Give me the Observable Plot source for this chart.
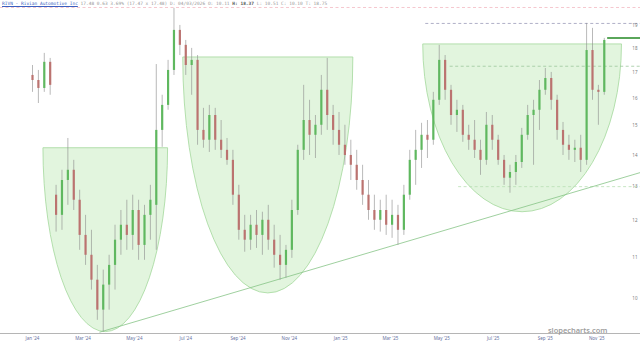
<!DOCTYPE html>
<html><head><meta charset="utf-8">
<script src="https://cdn.jsdelivr.net/npm/d3@7"></script>
<script src="https://cdn.jsdelivr.net/npm/@observablehq/plot@0.6"></script>
<style>
body{margin:0;background:#fff;}
#wrap{position:relative;width:640px;height:345px;overflow:hidden;background:#fff;}
#title{position:absolute;left:2px;top:1px;font:4.5px "DejaVu Sans Mono",monospace;color:#9a9a9a;white-space:nowrap;z-index:2;line-height:6px;}
#title span.t{color:#3b5fc0;text-decoration:underline;}
#title b{color:#555;}
#chart svg{display:block;}
</style></head><body>
<div id="wrap">
<div id="title"><span class="t">RIVN - Rivian Automotive Inc</span>  17.48 0.63 3.69% (17.47 x 17.48) D: 04/03/2026 O: 10.11 <b>H: 18.37</b> L: 10.51 C: 10.10 T: 18.75</div>
<div id="chart"></div>
</div>
<script>
// weekly candles, first week starting 2024-01-01
const firstWeek = "2024-01-01";
const opens = [16.89,16.69,16.38,17.42,12.74,12.15,13.19,13.51,12.59,11.59,
11.06,10.43,9.72,10.31,10.80,11.46,11.87,11.59,12.29,11.32,
12.15,12.44,14.84,15.74,17.09,18.78,18.13,17.29,17.50,14.84,
14.50,15.37,14.50,14.16,13.83,12.74,11.73,11.46,11.87,11.59,
12.01,11.46,11.06,10.80,11.19,12.29,14.16,15.19,14.67,15.02,
16.31,15.37,14.84,14.33,13.99,13.67,13.19,12.74,12.29,12.01,
12.29,11.87,12.15,11.73,12.74,13.83,14.16,14.67,14.50,15.93,
17.50,16.31,15.37,15.56,14.67,14.50,14.16,13.83,15.02,14.50,
13.83,13.26,13.44,13.76,14.67,15.37,15.56,16.31,16.77,15.93,
14.84,14.33,14.16,14.23,13.83,17.91,16.31,16.23];
const highs = [17.29,17.09,17.79,17.58,13.04,13.51,14.56,13.83,12.89,12.15,
11.73,10.80,10.68,11.06,11.87,12.29,12.59,12.74,12.59,12.44,
13.04,17.33,16.12,17.50,19.78,19.00,18.34,18.00,17.70,15.63,
15.74,15.63,15.19,14.56,14.16,13.04,12.15,12.15,12.29,12.24,
12.44,11.87,11.59,11.32,12.59,14.33,16.50,15.93,15.37,16.89,
17.58,15.74,15.48,15.02,14.50,14.16,13.67,13.19,12.74,12.59,
12.74,12.59,12.44,13.04,14.16,14.84,15.09,15.19,16.23,18.13,
17.70,16.50,15.93,15.74,15.02,15.19,14.50,15.48,15.37,14.67,
13.99,13.67,13.99,14.91,15.74,15.93,16.69,17.17,17.01,16.12,
15.12,14.67,14.50,14.67,19.09,18.87,16.50,18.43];
const lows = [16.23,15.81,16.23,16.12,11.68,11.73,12.44,12.29,11.19,10.80,
10.19,9.49,9.23,9.72,10.19,11.06,11.19,11.19,10.93,10.93,
11.46,11.19,14.26,15.56,16.89,17.70,16.89,16.12,14.33,14.23,
14.09,14.16,13.89,13.67,12.44,11.46,11.14,11.19,11.24,11.06,
11.19,10.73,10.43,10.48,10.98,12.15,13.83,13.99,13.89,14.67,
14.84,14.33,13.99,13.67,13.19,12.89,12.44,12.01,11.73,11.68,
11.59,11.51,11.32,11.59,12.59,13.04,13.57,13.89,14.33,15.74,
15.93,15.02,14.77,14.43,14.16,13.89,13.35,13.67,14.16,13.67,
13.04,12.80,13.04,13.57,14.50,13.67,14.84,16.12,15.56,14.50,
13.99,13.83,13.76,13.44,13.67,15.93,15.02,16.12];
const closes = [16.69,16.38,17.42,16.50,12.15,13.19,13.51,12.59,11.59,11.06,
10.43,9.72,10.31,10.80,11.46,11.87,11.59,12.29,11.32,12.15,
12.59,14.84,15.74,17.09,18.78,18.13,17.29,17.50,14.84,14.50,
15.37,14.50,14.16,13.83,12.74,11.73,11.46,11.87,11.59,12.01,
11.46,11.06,10.80,11.19,12.29,14.16,15.19,14.67,15.02,16.31,
15.37,14.84,14.33,13.99,13.67,13.19,12.74,12.29,12.01,12.29,
11.87,12.15,11.73,12.74,13.83,14.16,14.67,14.50,15.93,17.50,
16.31,15.37,15.56,14.67,14.50,14.16,13.83,15.02,14.50,13.83,
13.26,13.44,13.76,14.67,15.37,15.56,16.31,16.77,15.93,14.84,
14.33,14.16,14.23,13.83,17.91,16.31,16.23,18.34];

// cup (rounded-bottom) annotations
const cupFrom = ["2024-01-14","2024-06-28","2025-04-09"];
const cupTo = ["2024-06-10","2025-01-16","2025-12-01"];
const cupTop = [14.23,17.62,18.17];
const cupBottom = [9.23,10.11,12.24];

// rising trend line
const trendDates = ["2024-03-21","2025-12-23"];
const trendPrices = [9.23,13.44];

// horizontal dashed levels
const levelPrices = [19.82,19.09,17.26,13.0];
const levelFrom = ["2023-11-24","2025-04-12","2025-05-11","2025-05-21"];
const levelColors = ["#f3b9c1","#9a9ab8","#9cc79c","#b9e0b4"];

// last price extension
const lastPrice = 18.45;
const lastFrom = "2025-11-14";

// axes
const xDomain = ["2023-11-24","2025-12-23"];
const yDomain = [9.2,19.68];
const tickDates = ["2024-01-01","2024-03-01","2024-05-01","2024-07-01","2024-09-01","2024-11-01",
"2025-01-01","2025-03-01","2025-05-01","2025-07-01","2025-09-01","2025-11-01"];
const tickLabels = ["Jan '24","Mar '24","May '24","Jul '24","Sep '24","Nov '24",
"Jan '25","Mar '25","May '25","Jul '25","Sep '25","Nov '25"];
const yTicks = [10,11,12,13,14,15,16,17,18,19];

const D = s => new Date(s + "T00:00:00Z");
const w0 = D(firstWeek);
const candles = opens.map((o,i)=>({date: d3.utcDay.offset(w0, 7*i), open:o, high:highs[i], low:lows[i], close:closes[i]}));
const cups = cupFrom.map((f,i)=>({from:D(f), to:D(cupTo[i]), top:cupTop[i], bottom:cupBottom[i]}));
const trend = trendDates.map((d,i)=>({date:D(d), price:trendPrices[i]}));
const xEnd = D(xDomain[1]);
const levels = levelPrices.map((p,i)=>({price:p, from:D(levelFrom[i]), to:xEnd, color:levelColors[i]}));
const tDates = tickDates.map(D);

function cupsMark(index, scales) {
  const g = d3.create("svg:g");
  for (const c of cups) {
    const xl = scales.x(c.from), xr = scales.x(c.to), yt = scales.y(c.top), yb = scales.y(c.bottom);
    const rx = (xr-xl)/2, ry = yb-yt;
    g.append("path")
      .attr("d", `M${xl},${yt}L${xr},${yt}A${rx},${ry} 0 0 1 ${xl},${yt}Z`)
      .attr("fill", "#e2f5de").attr("stroke", "#a3d89c").attr("stroke-width", 0.8);
  }
  return g.node();
}

const chart = Plot.plot({
  width: 640, height: 345,
  marginTop: 10, marginBottom: 12, marginLeft: 0, marginRight: 0,
  style: {background: "transparent", overflow: "visible"},
  x: {type: "utc", domain: xDomain.map(D)},
  y: {type: "log", domain: yDomain},
  marks: [
    cupsMark,
    Plot.ruleY(levels, {y: "price", x1: "from", x2: "to", stroke: "color", strokeWidth: 0.8, strokeDasharray: "3,2.5"}),
    Plot.line(trend, {x: "date", y: "price", stroke: "#86c486", strokeWidth: 0.8}),
    Plot.ruleY([yDomain[0]], {stroke: "#b5b5b5", strokeWidth: 1}),
    Plot.ruleX(candles, {x: "date", y1: "low", y2: "high", stroke: "#8a8a8a", strokeWidth: 0.6}),
    Plot.ruleX(candles, {x: "date", y1: "open", y2: "close", stroke: d => d.close >= d.open ? "#5fb85f" : "#bb7370", strokeWidth: 2.2}),
    Plot.ruleY([{price: lastPrice, from: D(lastFrom), to: xEnd}], {y: "price", x1: "from", x2: "to", stroke: "#5aa65a", strokeWidth: 2}),
    Plot.axisX({ticks: tDates, tickSize: 0, tickPadding: 3, fontSize: 4.5, fill: "#6670a0", label: null,
      tickFormat: d => tickLabels[tDates.findIndex(t => +t === +d)]}),
    Plot.axisY({anchor: "right", ticks: yTicks, tickSize: 0, tickPadding: 0, textAnchor: "end", dx: -3, fontSize: 4.5, fill: "#7a7a7a", label: null, tickFormat: d => String(d)}),
    Plot.text(["slopecharts.com"], {frameAnchor: "bottom-right", dx: -33, dy: -1, fontSize: 7.5, fontWeight: 600, fill: "#9a9a9a", textAnchor: "end", fontFamily: "Open Sans"})
  ]
});
document.getElementById("chart").appendChild(chart);
</script>
</body></html>
